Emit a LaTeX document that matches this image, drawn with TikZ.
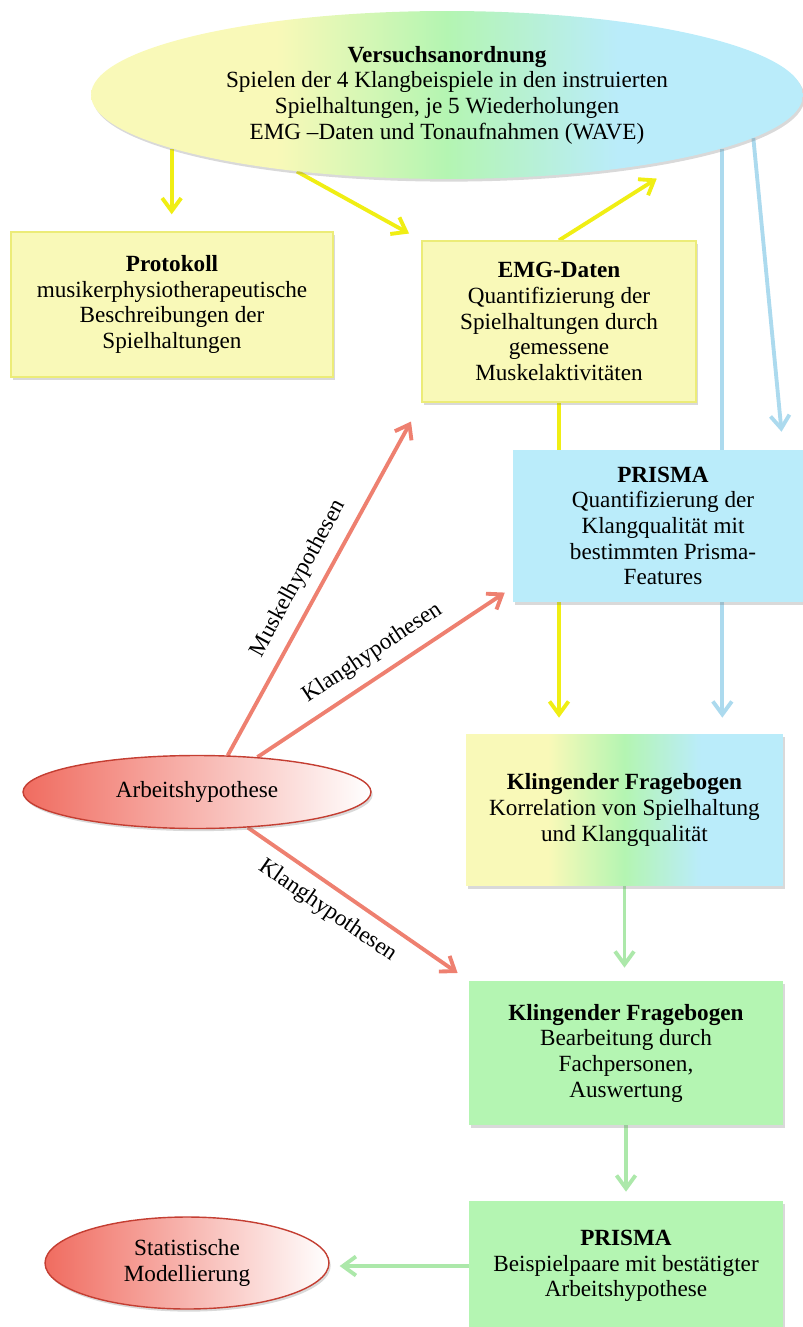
\documentclass[tikz,border=0pt]{standalone}
\usepackage{fontspec}
\setmainfont{Liberation Serif}
\usetikzlibrary{shapes.geometric,calc,positioning,arrows.meta,shadows,backgrounds}
\definecolor{yelfill}{RGB}{249,249,184}
\definecolor{yeldraw}{RGB}{236,236,120}
\definecolor{grnfill}{RGB}{180,245,178}
\definecolor{blufill}{RGB}{186,236,250}
\definecolor{yelline}{RGB}{240,238,20}
\definecolor{bluline}{RGB}{172,218,238}
\definecolor{grnline}{RGB}{172,232,170}
\definecolor{redline}{RGB}{238,128,112}
\definecolor{redfill}{RGB}{240,108,96}
\definecolor{reddraw}{RGB}{196,62,50}
\pgfdeclarehorizontalshading{farbverlauf}{100bp}{color(0bp)=(yelfill); color(38bp)=(yelfill); color(50bp)=(grnfill); color(62bp)=(blufill); color(100bp)=(blufill)}

\begin{document}
\begin{tikzpicture}
[x=0.02cm,y=-0.02cm,font=\fontsize{13.2}{14.6}\selectfont,
schatten/.style={drop shadow={opacity=0.3,shadow xshift=1pt,shadow yshift=-1.5pt}},
kasten/.style={rectangle,inner sep=0pt,align=center,schatten},
gelb/.style={kasten,fill=yelfill,draw=yeldraw,line width=0.8pt},
blau/.style={kasten,fill=blufill},
gruen/.style={kasten,fill=grnfill},
bunt/.style={kasten,shade,shading=farbverlauf},
oval/.style={ellipse,inner sep=0pt,align=center,left color=redfill,right color=white,draw=reddraw,line width=0.8pt,schatten},
pfeil/.style={line width=2.2pt,-{Straight Barb[length=2.6mm,width=3.8mm]}},
etikett/.style={sloped,black,inner sep=2pt},]
\useasboundingbox (0,0) rectangle (803,1327);

\node (versuch) at (447,95)[ellipse,inner sep=0pt,align=center,shade,shading=farbverlauf,schatten,minimum width=14.24cm,minimum height=3.36cm] {\textbf{Versuchsanordnung}\\Spielen der 4 Klangbeispiele in den instruierten\\Spielhaltungen, je 5 Wiederholungen\\EMG –Daten und Tonaufnahmen (WAVE)};
\node (protokoll) at (172,304.5)[gelb,minimum width=6.44cm,minimum height=2.9cm] {\textbf{Protokoll}\\musikerphysiotherapeutische\\Beschreibungen der\\Spielhaltungen};
\node (emg) at (559,321.5)[gelb,minimum width=5.48cm,minimum height=3.22cm] {\textbf{EMG-Daten}\\Quantifizierung der\\Spielhaltungen durch\\gemessene\\Muskelaktivitäten};
\node (prisma1) at (663,526)[blau,minimum width=6cm,minimum height=3.04cm] {\textbf{PRISMA}\\Quantifizierung der\\Klangqualität mit\\bestimmten Prisma-\\Features};
\node (frage1) at (624.5,810)[bunt,minimum width=6.34cm,minimum height=3.04cm] {\textbf{Klingender Fragebogen}\\Korrelation von Spielhaltung\\und Klangqualität};
\node (frage2) at (626,1053)[gruen,minimum width=6.28cm,minimum height=2.88cm] {\textbf{Klingender Fragebogen}\\Bearbeitung durch\\Fachpersonen,\\Auswertung};
\node (prisma2) at (626,1266)[gruen,minimum width=6.28cm,minimum height=2.6cm] {\textbf{PRISMA}\\Beispielpaare mit bestätigter\\Arbeitshypothese};
\node (arbeit) at (197,792)[oval,minimum width=6.96cm,minimum height=1.46cm] {Arbeitshypothese};
\node (statistik) at (187,1263)[oval,minimum width=5.68cm,minimum height=1.84cm] {Statistische\\Modellierung};

\begin{scope}[on background layer]
\draw[pfeil,yelline,shorten >=0.34cm] (versuch.191) -- (versuch.191 |- protokoll.north);
\draw[pfeil,yelline,shorten >=0.28cm] (versuch.207) -- (emg.north west);
\draw[pfeil,yelline,shorten >=0.84cm] (emg.north) -- (versuch.-14.5);
\draw[pfeil,yelline,shorten >=0.32cm] (emg.south) -- (emg.south |- frage1.north);
\draw[pfeil,bluline,shorten >=0.32cm] (versuch.-11.6) -- (versuch.-11.6 |- frage1.north);
\draw[pfeil,bluline,shorten >=0.36cm] (versuch.-8.5) -- ($(prisma1.north west)!0.9!(prisma1.north east)$);
\draw[pfeil,redline,shorten >=0.43cm] (arbeit.50) -- node[etikett,above=4pt,pos=0.47] {Muskelhypothesen} (emg.south west);
\draw[pfeil,redline,shorten >=0.19cm] (arbeit.30) -- node[etikett,above=4pt] {Klanghypothesen} ($(prisma1.south west)+(0,-15)$);
\draw[pfeil,redline,shorten >=0.27cm] (arbeit.-35) -- node[etikett,below=4pt,pos=0.42] {Klanghypothesen} (frage2.north west);
\draw[pfeil,grnline,shorten >=0.26cm] (frage1.south) -- (frage1.south |- frage2.north);
\draw[pfeil,grnline,shorten >=0.18cm] (frage2.south) -- (prisma2.north);
\draw[pfeil,grnline,shorten >=0.2cm] (prisma2.west) -- (prisma2.west -| statistik.east);
\end{scope}
\end{tikzpicture}
\end{document}
